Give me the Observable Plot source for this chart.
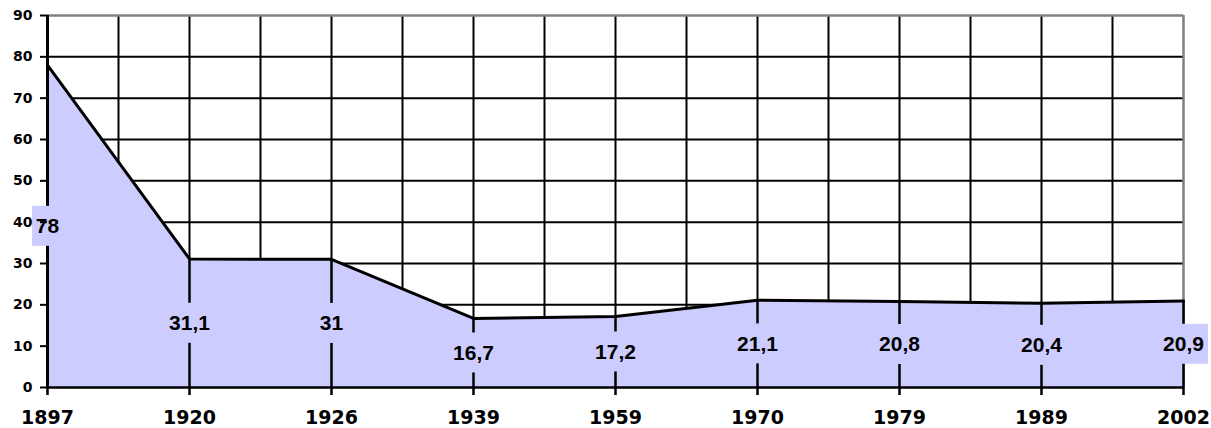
<!DOCTYPE html>
<html>
<head>
<meta charset="utf-8">
<script src="https://cdn.jsdelivr.net/npm/d3@7"></script>
<script src="https://cdn.jsdelivr.net/npm/@observablehq/plot@0.6"></script>
<style>
  html, body { margin: 0; padding: 0; background: #fff; }
</style>
</head>
<body>
<div id="chart"></div>
<script>
const years = ["1897", "1920", "1926", "1939", "1959", "1970", "1979", "1989", "2002"];
const values = [78, 31.1, 31, 16.7, 17.2, 21.1, 20.8, 20.4, 20.9];
const yTicks = [0, 10, 20, 30, 40, 50, 60, 70, 80, 90];

const data = years.map((year, i) => ({
  i, year, value: values[i], mid: values[i] / 2,
  label: String(values[i]).replace(".", ",")
}));
const n = years.length - 1;
const halfSteps = d3.range(0.5, n, 0.5);
const fill = "#CCCCFF";

const chart = Plot.plot({
  width: 1211,
  height: 428,
  marginLeft: 47,
  marginRight: 28,
  marginTop: 15,
  marginBottom: 41,
  style: { fontFamily: "'DejaVu Sans', Verdana, sans-serif", fontWeight: "bold", background: "#fff", color: "#000" },
  x: { type: "linear", domain: [0, n] },
  y: { domain: [0, 90] },
  marks: [
    Plot.ruleY(yTicks.filter(d => d > 0 && d < 90), { stroke: "#000", strokeWidth: 2 }),
    Plot.ruleX(halfSteps, { stroke: "#000", strokeWidth: 2 }),
    Plot.ruleY([90], { stroke: "#808080", strokeWidth: 2.5 }),
    Plot.ruleX([n], { y1: 0, y2: 90, stroke: "#808080", strokeWidth: 2.5 }),
    Plot.areaY(data, { x: "i", y: "value", fill }),
    Plot.ruleX(data, { x: "i", y1: 0, y2: "value", stroke: "#000", strokeWidth: 2.5 }),
    Plot.lineY(data, { x: "i", y: "value", stroke: "#000", strokeWidth: 3 }),
    Plot.ruleY([0], { stroke: "#000", strokeWidth: 2.5 }),
    Plot.ruleX([0], { y1: 0, y2: 90, stroke: "#000", strokeWidth: 3 }),
    Plot.rect(data.filter(d => d.label.length <= 2), {
      x1: "i", x2: "i", y1: "mid", y2: "mid", fill,
      insetLeft: -15, insetRight: -15, insetTop: -20, insetBottom: -20
    }),
    Plot.rect(data.filter(d => d.label.length > 2), {
      x1: "i", x2: "i", y1: "mid", y2: "mid", fill,
      insetLeft: -25, insetRight: -25, insetTop: -20, insetBottom: -20
    }),
    Plot.text(data, {
      x: "i", y: "mid", text: "label", fill: "#000",
      fontSize: 21, fontWeight: "bold", fontFamily: "'Liberation Sans', Arial, sans-serif"
    }),
    Plot.axisY({
      ticks: yTicks, tickSize: 7, tickPadding: 8, label: null,
      fontSize: 14, fontWeight: "bold", strokeWidth: 2
    }),
    Plot.axisX({
      ticks: d3.range(0, n + 1), tickFormat: i => years[i], tickSize: 8, tickPadding: 15, label: null,
      fontSize: 19, fontWeight: "bold", strokeWidth: 2.5
    })
  ]
});
document.getElementById("chart").appendChild(chart);
</script>
</body>
</html>
